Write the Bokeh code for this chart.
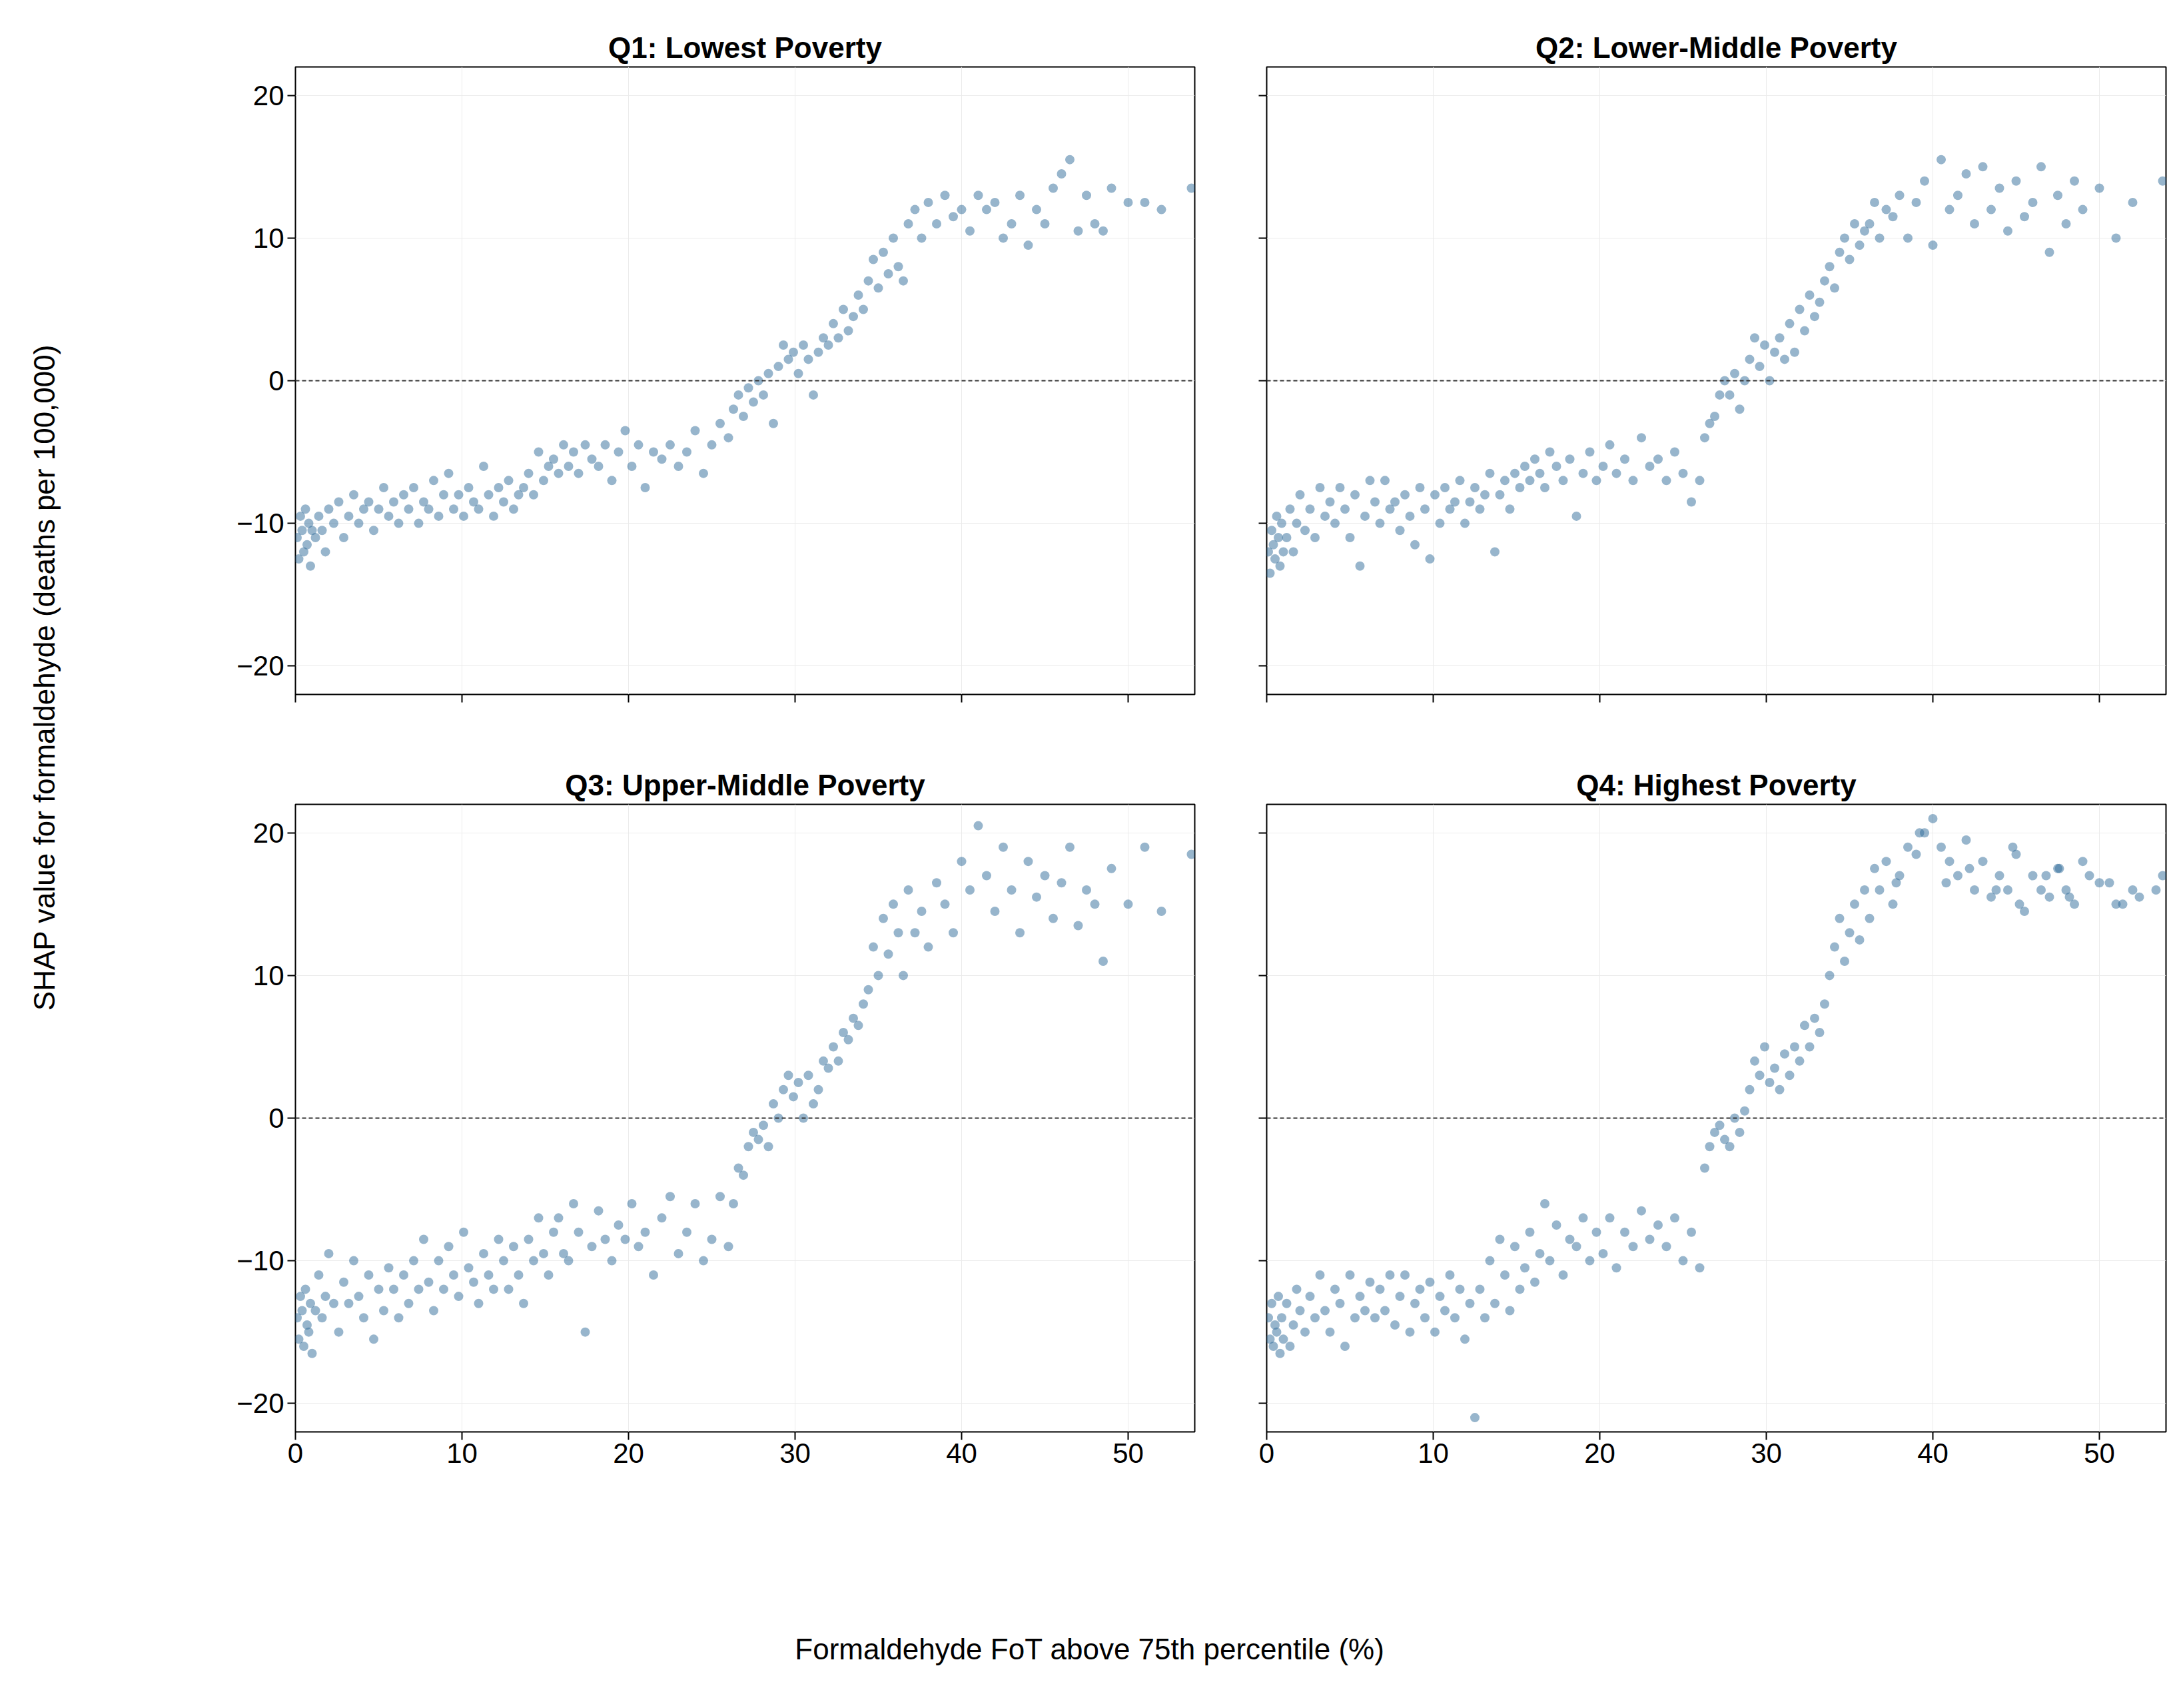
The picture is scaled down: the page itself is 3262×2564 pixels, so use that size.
import math
from bokeh.plotting import figure
from bokeh.layouts import gridplot, row, column
from bokeh.models import Span, Range1d
from bokeh.embed import file_html
from bokeh.resources import INLINE
from bokeh.core.properties import value

titles = ["Q1: Lowest Poverty", "Q2: Lower-Middle Poverty", "Q3: Upper-Middle Poverty", "Q4: Highest Poverty"]

# FoT (%) positions of the sampled tracts (shared by all panels)
fot_x = [0.1, 0.2, 0.3, 0.4, 0.5, 0.6, 0.7, 0.8, 0.9, 1.0,
         1.2, 1.4, 1.6, 1.8, 2.0, 2.3, 2.6, 2.9, 3.2, 3.5,
         3.8, 4.1, 4.4, 4.7, 5.0, 5.3, 5.6, 5.9, 6.2, 6.5,
         6.8, 7.1, 7.4, 7.7, 8.0, 8.3, 8.6, 8.9, 9.2, 9.5,
         9.8, 10.1, 10.4, 10.7, 11.0, 11.3, 11.6, 11.9, 12.2, 12.5,
         12.8, 13.1, 13.4, 13.7, 14.0, 14.3, 14.6, 14.9, 15.2, 15.5,
         15.8, 16.1, 16.4, 16.7, 17.0, 17.4, 17.8, 18.2, 18.6, 19.0,
         19.4, 19.8, 20.2, 20.6, 21.0, 21.5, 22.0, 22.5, 23.0, 23.5,
         24.0, 24.5, 25.0, 25.5, 26.0, 26.3, 26.6, 26.9, 27.2, 27.5,
         27.8, 28.1, 28.4, 28.7, 29.0, 29.3, 29.6, 29.9, 30.2, 30.5,
         30.8, 31.1, 31.4, 31.7, 32.0, 32.3, 32.6, 32.9, 33.2, 33.5,
         33.8, 34.1, 34.4, 34.7, 35.0, 35.3, 35.6, 35.9, 36.2, 36.5,
         36.8, 37.2, 37.6, 38.0, 38.5, 39.0, 39.5, 40.0, 40.5, 41.0,
         41.5, 42.0, 42.5, 43.0, 43.5, 44.0, 44.5, 45.0, 45.5, 46.0,
         46.5, 47.0, 47.5, 48.0, 48.5, 49.0, 50.0, 51.0, 52.0, 53.8]

q1_y = [-11, -12.5, -9.5, -10.5, -12, -9, -11.5, -10, -13, -10.5,
        -11, -9.5, -10.5, -12, -9, -10, -8.5, -11, -9.5, -8,
        -10, -9, -8.5, -10.5, -9, -7.5, -9.5, -8.5, -10, -8,
        -9, -7.5, -10, -8.5, -9, -7, -9.5, -8, -6.5, -9,
        -8, -9.5, -7.5, -8.5, -9, -6, -8, -9.5, -7.5, -8.5,
        -7, -9, -8, -7.5, -6.5, -8, -5, -7, -6, -5.5,
        -6.5, -4.5, -6, -5, -6.5, -4.5, -5.5, -6, -4.5, -7,
        -5, -3.5, -6, -4.5, -7.5, -5, -5.5, -4.5, -6, -5,
        -3.5, -6.5, -4.5, -3, -4, -2, -1, -2.5, -0.5, -1.5,
        0, -1, 0.5, -3, 1, 2.5, 1.5, 2, 0.5, 2.5,
        1.5, -1, 2, 3, 2.5, 4, 3, 5, 3.5, 4.5,
        6, 5, 7, 8.5, 6.5, 9, 7.5, 10, 8, 7,
        11, 12, 10, 12.5, 11, 13, 11.5, 12, 10.5, 13,
        12, 12.5, 10, 11, 13, 9.5, 12, 11, 13.5, 14.5,
        15.5, 10.5, 13, 11, 10.5, 13.5, 12.5, 12.5, 12, 13.5]

q2_y = [-12, -13.5, -10.5, -11.5, -12.5, -9.5, -11, -13, -10, -12,
        -11, -9, -12, -10, -8, -10.5, -9, -11, -7.5, -9.5,
        -8.5, -10, -7.5, -9, -11, -8, -13, -9.5, -7, -8.5,
        -10, -7, -9, -8.5, -10.5, -8, -9.5, -11.5, -7.5, -9,
        -12.5, -8, -10, -7.5, -9, -8.5, -7, -10, -8.5, -7.5,
        -9, -8, -6.5, -12, -8, -7, -9, -6.5, -7.5, -6,
        -7, -5.5, -6.5, -7.5, -5, -6, -7, -5.5, -9.5, -6.5,
        -5, -7, -6, -4.5, -6.5, -5.5, -7, -4, -6, -5.5,
        -7, -5, -6.5, -8.5, -7, -4, -3, -2.5, -1, 0,
        -1, 0.5, -2, 0, 1.5, 3, 1, 2.5, 0, 2,
        3, 1.5, 4, 2, 5, 3.5, 6, 4.5, 5.5, 7,
        8, 6.5, 9, 10, 8.5, 11, 9.5, 10.5, 11, 12.5,
        10, 12, 11.5, 13, 10, 12.5, 14, 9.5, 15.5, 12,
        13, 14.5, 11, 15, 12, 13.5, 10.5, 14, 11.5, 12.5,
        15, 9, 13, 11, 14, 12, 13.5, 10, 12.5, 14]

q3_y = [-14, -15.5, -12.5, -13.5, -16, -12, -14.5, -15, -13, -16.5,
        -13.5, -11, -14, -12.5, -9.5, -13, -15, -11.5, -13, -10,
        -12.5, -14, -11, -15.5, -12, -13.5, -10.5, -12, -14, -11,
        -13, -10, -12, -8.5, -11.5, -13.5, -10, -12, -9, -11,
        -12.5, -8, -10.5, -11.5, -13, -9.5, -11, -12, -8.5, -10,
        -12, -9, -11, -13, -8.5, -10, -7, -9.5, -11, -8,
        -7, -9.5, -10, -6, -8, -15, -9, -6.5, -8.5, -10,
        -7.5, -8.5, -6, -9, -8, -11, -7, -5.5, -9.5, -8,
        -6, -10, -8.5, -5.5, -9, -6, -3.5, -4, -2, -1,
        -1.5, -0.5, -2, 1, 0, 2, 3, 1.5, 2.5, 0,
        3, 1, 2, 4, 3.5, 5, 4, 6, 5.5, 7,
        6.5, 8, 9, 12, 10, 14, 11.5, 15, 13, 10,
        16, 13, 14.5, 12, 16.5, 15, 13, 18, 16, 20.5,
        17, 14.5, 19, 16, 13, 18, 15.5, 17, 14, 16.5,
        19, 13.5, 16, 15, 11, 17.5, 15, 19, 14.5, 18.5]

q4_y = [-14, -15.5, -13, -16, -14.5, -15, -12.5, -16.5, -14, -15.5,
        -13, -16, -14.5, -12, -13.5, -15, -12.5, -14, -11, -13.5,
        -15, -12, -13, -16, -11, -14, -12.5, -13.5, -11.5, -14,
        -12, -13.5, -11, -14.5, -12.5, -11, -15, -13, -12, -14,
        -11.5, -15, -12.5, -13.5, -11, -14, -12, -15.5, -13, -21,
        -12, -14, -10, -13, -8.5, -11, -13.5, -9, -12, -10.5,
        -8, -11.5, -9.5, -6, -10, -7.5, -11, -8.5, -9, -7,
        -10, -8, -9.5, -7, -10.5, -8, -9, -6.5, -8.5, -7.5,
        -9, -7, -10, -8, -10.5, -3.5, -2, -1, -0.5, -1.5,
        -2, 0, -1, 0.5, 2, 4, 3, 5, 2.5, 3.5,
        2, 4.5, 3, 5, 4, 6.5, 5, 7, 6, 8,
        10, 12, 14, 11, 13, 15, 12.5, 16, 14, 17.5,
        16, 18, 15, 17, 19, 18.5, 20, 21, 19, 18,
        17, 19.5, 16, 18, 15.5, 17, 16, 18.5, 14.5, 17,
        16, 15.5, 17.5, 16, 15, 18, 16.5, 15, 16, 17]

# extra dense high-FoT tracts in Q4
q4_extra_x = [40.8, 42.2, 43.8, 44.8, 46.8, 48.2, 49.4, 50.6, 52.4, 53.4, 39.2, 37.8, 45.2, 47.6, 51.4]
q4_extra_y = [16.5, 17.5, 16, 19, 17, 15.5, 17, 16.5, 15.5, 16, 20, 16.5, 15, 17.5, 15]

X = [fot_x, fot_x, fot_x, fot_x + q4_extra_x]
Y = [q1_y, q2_y, q3_y, q4_y + q4_extra_y]

FONT = "Liberation Sans"
PW, PH = 1350, 942

figs = []
for i in range(4):
    left = i % 2 == 0
    bottom = i >= 2
    mbl = 143 if left else 88
    mbt = 100 if i < 2 else 125
    mbb = 40 if not bottom else 85
    p = figure(width=PW + mbl + 20, height=PH + mbt + mbb, output_backend="svg", toolbar_location=None,
               x_range=Range1d(0, 54), y_range=Range1d(-22, 22),
               min_border_left=mbl, min_border_right=20, min_border_top=mbt, min_border_bottom=mbb,
               title=titles[i])
    p.title.align = "center"
    p.title.text_font = FONT
    p.title.text_font_size = "44px"
    p.title.text_font_style = "bold"
    p.title.text_color = "black"
    p.title.offset = 12
    p.outline_line_color = "black"
    p.outline_line_width = 2
    for ax in (p.xaxis[0], p.yaxis[0]):
        ax.axis_line_color = None
        ax.major_tick_line_width = 2
        ax.major_tick_out = 12
        ax.major_tick_in = 0
        ax.minor_tick_line_color = None
        ax.major_label_text_font = FONT
        ax.major_label_text_font_size = "42px"
        ax.major_label_text_color = "black"
    p.xaxis.ticker = [0, 10, 20, 30, 40, 50]
    p.yaxis.ticker = [-20, -10, 0, 10, 20]
    p.yaxis.major_label_overrides = {-20: "\u221220", -10: "\u221210"}
    if not bottom:
        p.xaxis.major_label_text_color = None
    if not left:
        p.yaxis.major_label_text_color = None
    p.grid.grid_line_color = "#ebebeb"
    p.grid.grid_line_width = 1
    p.scatter(X[i], Y[i], size=14, fill_color="#2f6b9a", fill_alpha=0.5, line_color=None)
    p.add_layout(Span(location=0, dimension="width", line_color="#333333", line_dash="6 4", line_width=2))
    figs.append(p)

grid = gridplot([[figs[0], figs[1]], [figs[2], figs[3]]], toolbar_location=None)

gh = figs[0].height + figs[2].height
yl = figure(width=300, height=gh, output_backend="svg", toolbar_location=None,
            x_range=Range1d(0, 1), y_range=Range1d(0, 1), min_border=0)
yl.axis.visible = False
yl.grid.visible = False
yl.outline_line_color = None
yl.text(x=[0.22], y=[0.545], text=["SHAP value for formaldehyde (deaths per 100,000)"], angle=math.pi / 2,
        text_align="center", text_baseline="middle", text_font=value(FONT), text_font_size="44px")

xl = figure(width=300 + figs[0].width + figs[1].width, height=330, output_backend="svg", toolbar_location=None,
            x_range=Range1d(0, 1), y_range=Range1d(0, 1), min_border=0)
xl.axis.visible = False
xl.grid.visible = False
xl.outline_line_color = None
xl.text(x=[0.5], y=[0.27], text=["Formaldehyde FoT above 75th percentile (%)"],
        text_align="center", text_baseline="middle", text_font=value(FONT), text_font_size="44px")

layout = column(row(yl, grid), xl)
open("out.html", "w").write(file_html(layout, INLINE))
